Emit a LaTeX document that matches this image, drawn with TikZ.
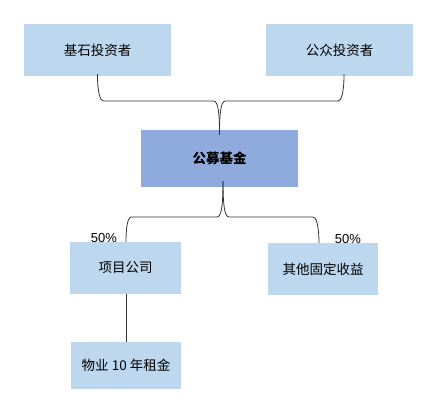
\documentclass[tikz,border=0pt]{standalone}
\usepackage{fontspec}
\setmainfont{Liberation Sans}
\newfontfamily\cjk{Noto Sans CJK SC}
\definecolor{boxlight}{HTML}{BDD7EE}
\definecolor{boxdark}{HTML}{8FAADC}

\begin{document}
\begin{tikzpicture}[x=1pt,y=-1pt,font=\cjk\fontsize{13.5}{16}\selectfont,
    lightbox/.style={fill=boxlight,minimum width=#1,minimum height=52pt,inner sep=0pt},
    lightbox/.default=147pt,
    darkbox/.style={fill=boxdark,minimum width=157pt,minimum height=57pt,inner sep=0pt},
    brace/.style={draw=black!80,line width=0.8pt},
    pct/.style={font=\fontsize{13}{15}\selectfont}]
  \useasboundingbox (0,0) rectangle (441,409);
  % investors
  \node[lightbox] (jishi) at (97.5,50) {基石投资者};
  \node[lightbox] (gongzhong) at (339.5,50) {公众投资者};
  % fund
  \node[darkbox] (fund) at (219.5,158.5) {\bfseries 公募基金};
  % holdings
  \node[lightbox=111pt] (xiangmu) at (125.5,268) {项目公司};
  \node[lightbox=110pt] (guding) at (323,269) {其他固定收益};
  \node[lightbox=110pt,minimum height=47pt] (zujin) at (126,365.5) {物业 10 年租金};
  \node[pct] (pctl) at (104,238) {50\%};
  \node[pct] (pctr) at (348,239) {50\%};
  % levels of the two braces
  \coordinate (bar1) at (0,101);
  \coordinate (bar2) at (0,217);
  % upper brace
  \coordinate (tip) at ([yshift=-5pt]fund.north);
  \draw[brace] ([yshift=2pt]jishi.south) .. controls +(0,20) and +(-3,0) .. ([xshift=6pt]jishi.south |- bar1)
    -- ([xshift=-6pt]tip |- bar1) .. controls +(5,0) and +(0,-20) .. (tip);
  \draw[brace] ([xshift=4.5pt,yshift=2pt]gongzhong.south) .. controls +(0,20) and +(3,0) .. ([xshift=-1.5pt]gongzhong.south |- bar1)
    -- ([xshift=6pt]tip |- bar1) .. controls +(-5,0) and +(0,-20) .. (tip);
  % lower brace
  \coordinate (top) at ([xshift=3.5pt,yshift=6pt]fund.south);
  \draw[brace] (top) .. controls +(0,20) and +(5,0) .. ([xshift=-6pt]top |- bar2)
    -- ([xshift=6pt]xiangmu.north |- bar2) .. controls +(-5,0) and +(0,-8) .. ([xshift=0.5pt]xiangmu.north);
  \draw[brace] (top) .. controls +(0,20) and +(-5,0) .. ([xshift=6pt]top |- bar2)
    -- ([xshift=-10pt]guding.north |- bar2) .. controls +(5,0) and +(0,-8) .. ([xshift=-4pt]guding.north);
  % rent
  \draw[brace] ([xshift=0.5pt]xiangmu.south) -- ([xshift=0.5pt]xiangmu.south |- zujin.north);
\end{tikzpicture}
\end{document}
